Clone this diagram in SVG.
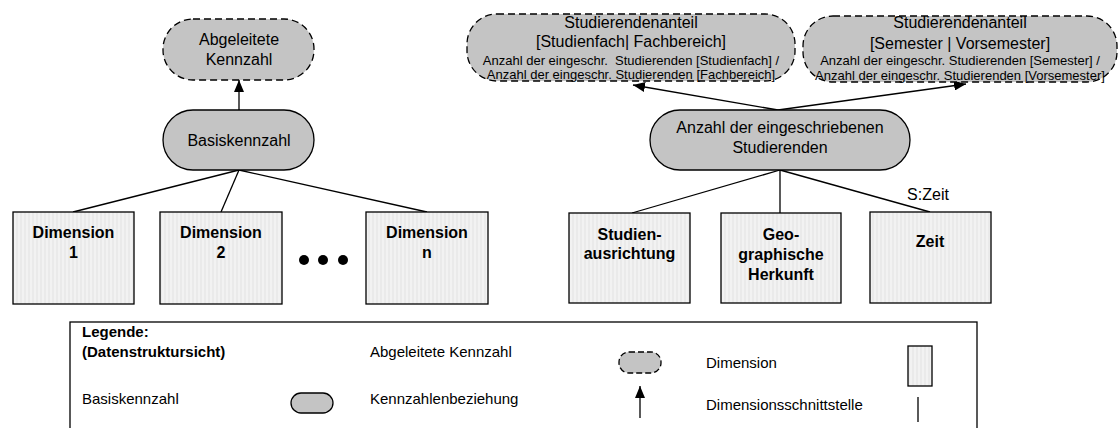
<svg xmlns="http://www.w3.org/2000/svg" width="1120" height="428" viewBox="0 0 1120 428">
  <defs>
    <pattern id="stripes" width="4" height="4" patternUnits="userSpaceOnUse">
      <rect width="4" height="4" fill="#f2f2f2"/>
      <rect width="2" height="4" fill="#eaeaea"/>
    </pattern>
    <marker id="arrow" viewBox="0 0 12 10" refX="12" refY="5" markerWidth="12" markerHeight="10" markerUnits="userSpaceOnUse" orient="auto">
      <path d="M0,0 L12,5 L0,10 z" fill="#000"/>
    </marker>
  </defs>
  <style>
    text { font-family: "Liberation Sans", Arial, sans-serif; fill: #000; }
    .pill { fill: #c4c4c4; stroke: #000; stroke-width: 1.3; }
    .derived { fill: #c4c4c4; stroke: #000; stroke-width: 1.3; stroke-dasharray: 7 4; }
    .dim { fill: url(#stripes); stroke: #000; stroke-width: 1.3; }
    .t16 { font-size: 16px; text-anchor: middle; }
    .t13 { font-size: 13px; text-anchor: middle; }
    .b16 { font-size: 16px; font-weight: bold; text-anchor: middle; }
    .lg { font-size: 15px; }
    .lgb { font-size: 15px; font-weight: bold; }
    .edge { stroke: #000; stroke-width: 1.3; fill: none; }
    .rel { stroke: #000; stroke-width: 1.3; fill: none; marker-end: url(#arrow); }
  </style>

  <rect width="1120" height="428" fill="#fff"/>

  <!-- connectors -->
  <g id="connectors">
    <line class="rel" x1="239" y1="110" x2="239" y2="80"/>
    <line class="edge" x1="239" y1="170" x2="73" y2="212"/>
    <line class="edge" x1="239" y1="170" x2="221" y2="212"/>
    <line class="edge" x1="239" y1="170" x2="427" y2="212"/>
    <line class="rel" x1="778" y1="110" x2="633" y2="85"/>
    <line class="rel" x1="778" y1="110" x2="966" y2="84"/>
    <line class="edge" x1="780" y1="170" x2="632" y2="213"/>
    <line class="edge" x1="780" y1="170" x2="780" y2="213"/>
    <line class="edge" x1="780" y1="170" x2="930" y2="212"/>
  </g>

  <!-- generic schema (left) -->
  <g id="abgeleitete-kennzahl">
    <rect class="derived" x="163" y="19" width="151" height="61" rx="30"/>
    <text class="t16" x="239" y="45">Abgeleitete</text>
    <text class="t16" x="239" y="65">Kennzahl</text>
  </g>
  <g id="basiskennzahl">
    <rect class="pill" x="163" y="110" width="151" height="60" rx="30"/>
    <text class="t16" x="239" y="146">Basiskennzahl</text>
  </g>
  <g id="dimension-1">
    <rect class="dim" x="13" y="212" width="121" height="92"/>
    <text class="b16" x="73.5" y="238">Dimension</text>
    <text class="b16" x="73.5" y="258">1</text>
  </g>
  <g id="dimension-2">
    <rect class="dim" x="160" y="212" width="122" height="92"/>
    <text class="b16" x="221" y="238">Dimension</text>
    <text class="b16" x="221" y="258">2</text>
  </g>
  <g id="ellipsis">
    <circle cx="304" cy="260" r="5"/>
    <circle cx="323" cy="260" r="5"/>
    <circle cx="343" cy="260" r="5"/>
  </g>
  <g id="dimension-n">
    <rect class="dim" x="366" y="212" width="122" height="92"/>
    <text class="b16" x="427" y="238">Dimension</text>
    <text class="b16" x="427" y="258">n</text>
  </g>

  <!-- example (right) -->
  <g id="anteil-studienfach">
    <rect class="derived" x="467" y="14" width="328" height="67" rx="30"/>
    <text class="t16" x="631" y="28">Studierendenanteil</text>
    <text class="t16" x="631" y="47">[Studienfach| Fachbereich]</text>
    <text class="t13" x="631" y="65" xml:space="preserve">Anzahl der eingeschr.  Studierenden [Studienfach] /</text>
    <text class="t13" x="631" y="79">Anzahl der eingeschr. Studierenden [Fachbereich]</text>
  </g>
  <g id="anteil-semester">
    <rect class="derived" x="803" y="16" width="314" height="66" rx="30"/>
    <text class="t16" x="960" y="28">Studierendenanteil</text>
    <text class="t16" x="960" y="49">[Semester | Vorsemester]</text>
    <text class="t13" x="960" y="65">Anzahl der eingeschr. Studierenden [Semester] /</text>
    <text class="t13" x="960" y="80">Anzahl der eingeschr. Studierenden [Vorsemester]</text>
  </g>
  <g id="anzahl-studierende">
    <rect class="pill" x="650" y="110" width="260" height="60" rx="30"/>
    <text class="t16" x="780" y="133">Anzahl der eingeschriebenen</text>
    <text class="t16" x="780" y="153">Studierenden</text>
  </g>
  <g id="studienausrichtung">
    <rect class="dim" x="569" y="213" width="121" height="90"/>
    <text class="b16" x="629.5" y="240">Studien-</text>
    <text class="b16" x="629.5" y="259">ausrichtung</text>
  </g>
  <g id="geographische-herkunft">
    <rect class="dim" x="721" y="213" width="120" height="90"/>
    <text class="b16" x="781" y="240">Geo-</text>
    <text class="b16" x="781" y="260">graphische</text>
    <text class="b16" x="781" y="280">Herkunft</text>
  </g>
  <g id="zeit">
    <text class="t16" x="928" y="200">S:Zeit</text>
    <rect class="dim" x="870" y="212" width="121" height="91"/>
    <text class="b16" x="930" y="247">Zeit</text>
  </g>

  <!-- legend -->
  <g id="legende">
    <rect x="70" y="322" width="907" height="120" fill="#fff" stroke="#000" stroke-width="1.3"/>
    <text class="lgb" x="82" y="337">Legende:</text>
    <text class="lgb" x="82" y="357">(Datenstruktursicht)</text>
    <text class="lg" x="82" y="404">Basiskennzahl</text>
    <rect class="pill" x="291" y="393" width="42" height="20" rx="10"/>
    <text class="lg" x="370" y="357">Abgeleitete Kennzahl</text>
    <text class="lg" x="370" y="404">Kennzahlenbeziehung</text>
    <rect class="derived" x="619" y="352" width="42" height="21" rx="10" style="stroke-dasharray:6 3"/>
    <line class="rel" x1="640" y1="418" x2="640" y2="386"/>
    <text class="lg" x="706" y="368">Dimension</text>
    <text class="lg" x="706" y="410">Dimensionsschnittstelle</text>
    <rect class="dim" x="908" y="346" width="24" height="40"/>
    <line class="edge" x1="918" y1="397" x2="918" y2="422"/>
  </g>
</svg>
